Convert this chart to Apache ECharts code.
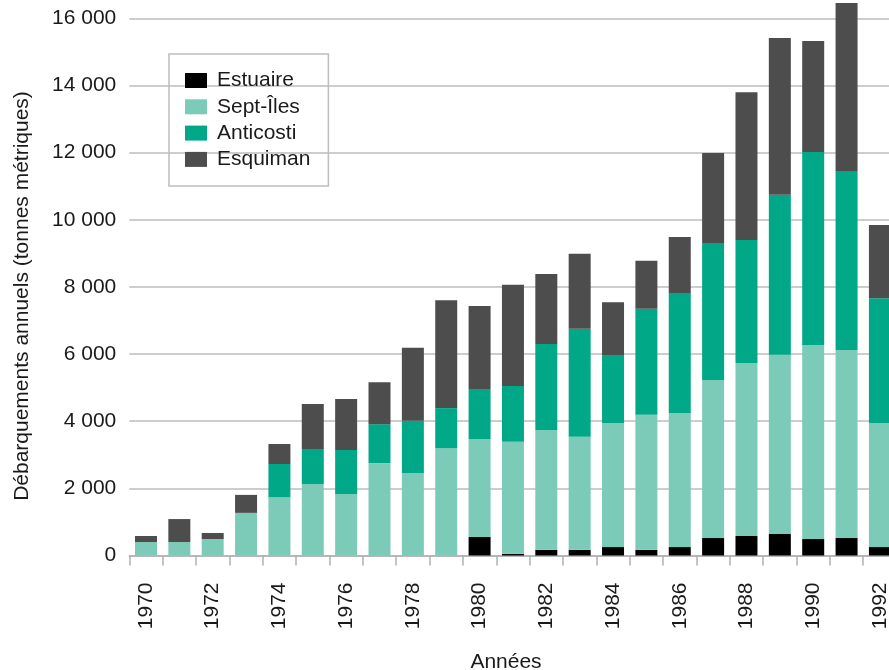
<!DOCTYPE html>
<html>
<head>
<meta charset="utf-8">
<script src="https://cdn.jsdelivr.net/npm/echarts@6/dist/echarts.min.js"></script>
<style>html,body{margin:0;padding:0;background:#fff;}#c{width:889px;height:670px;}</style>
</head>
<body>
<div id="c"></div>
<script>
const years = ['1970','1971','1972','1973','1974','1975','1976','1977','1978','1979','1980','1981','1982','1983','1984','1985','1986','1987','1988','1989','1990','1991','1992'];
const estuaire  = [0,0,0,0,0,0,0,0,0,0,550,50,170,170,250,170,250,520,580,640,490,520,250];
const septIles  = [400,400,490,1270,1740,2130,1830,2750,2460,3200,2920,3335,3570,3365,3695,4020,3990,4705,5150,5335,5780,5600,3695];
const anticosti = [0,0,0,0,985,1045,1310,1160,1550,1190,1490,1665,2560,3215,2025,3155,3575,4080,3665,4765,5745,5330,3720];
const esquiman  = [180,685,180,535,595,1340,1520,1250,2175,3215,2470,3010,2085,2235,1575,1430,1670,2680,4405,4675,3305,5005,2175];
const yTicks = {min: 0, max: 18000, interval: 2000};

const FONT = '"Liberation Sans", Arial, Helvetica, sans-serif';
const TXT = '#1a1a1a';
const FS = 21;
const fmt = v => String(v).replace(/\B(?=(\d{3})+(?!\d))/g, ' ');

const chart = echarts.init(document.getElementById('c'), null, {renderer: 'canvas'});
const mk = (name, data, color) => ({
  name, type: 'bar', stack: 'total', data, barWidth: 22,
  itemStyle: {color}, emphasis: {disabled: true}
});
chart.setOption({
  animation: false,
  backgroundColor: '#fff',
  textStyle: {fontFamily: FONT},
  grid: {left: 129.3, top: -48.9, width: 767.3, height: 604.4, containLabel: false, outerBoundsMode: 'none'},
  legend: {
    orient: 'vertical', left: 169, top: 54,
    padding: [16, 18, 16, 16],
    itemWidth: 22, itemHeight: 15, itemGap: 5.3,
    icon: 'rect',
    borderColor: '#bdbdbd', borderWidth: 1.5,
    textStyle: {fontFamily: FONT, fontSize: FS, color: TXT, padding: [0, 0, 0, 5]},
    data: ['Estuaire', 'Sept-Îles', 'Anticosti', 'Esquiman']
  },
  xAxis: {
    type: 'category', data: years, boundaryGap: true,
    axisLine: {lineStyle: {color: '#b0b0b0', width: 1.5}},
    axisTick: {show: true, interval: 0, length: 10, lineStyle: {color: '#b0b0b0', width: 1.5}},
    axisLabel: {interval: 1, rotate: 90, margin: 27, fontSize: FS, color: TXT, fontFamily: FONT}
  },
  yAxis: {
    type: 'value', min: yTicks.min, max: yTicks.max, interval: yTicks.interval,
    axisLine: {show: false}, axisTick: {show: false},
    splitLine: {lineStyle: {color: '#bdbdbd', width: 1.5}},
    axisLabel: {margin: 13, fontSize: FS, color: TXT, fontFamily: FONT, formatter: fmt}
  },
  graphic: [
    {type: 'text', x: 22, y: 296, rotation: Math.PI / 2,
     style: {text: 'Débarquements annuels (tonnes métriques)', fontSize: FS, fontFamily: FONT, fill: TXT, textAlign: 'center', textVerticalAlign: 'middle'}},
    {type: 'text', x: 506, y: 662,
     style: {text: 'Années', fontSize: FS, fontFamily: FONT, fill: TXT, textAlign: 'center', textVerticalAlign: 'middle'}}
  ],
  series: [
    mk('Estuaire', estuaire, '#000000'),
    mk('Sept-Îles', septIles, '#7ccbb9'),
    mk('Anticosti', anticosti, '#00a887'),
    mk('Esquiman', esquiman, '#4d4d4d')
  ]
});
</script>
</body>
</html>
